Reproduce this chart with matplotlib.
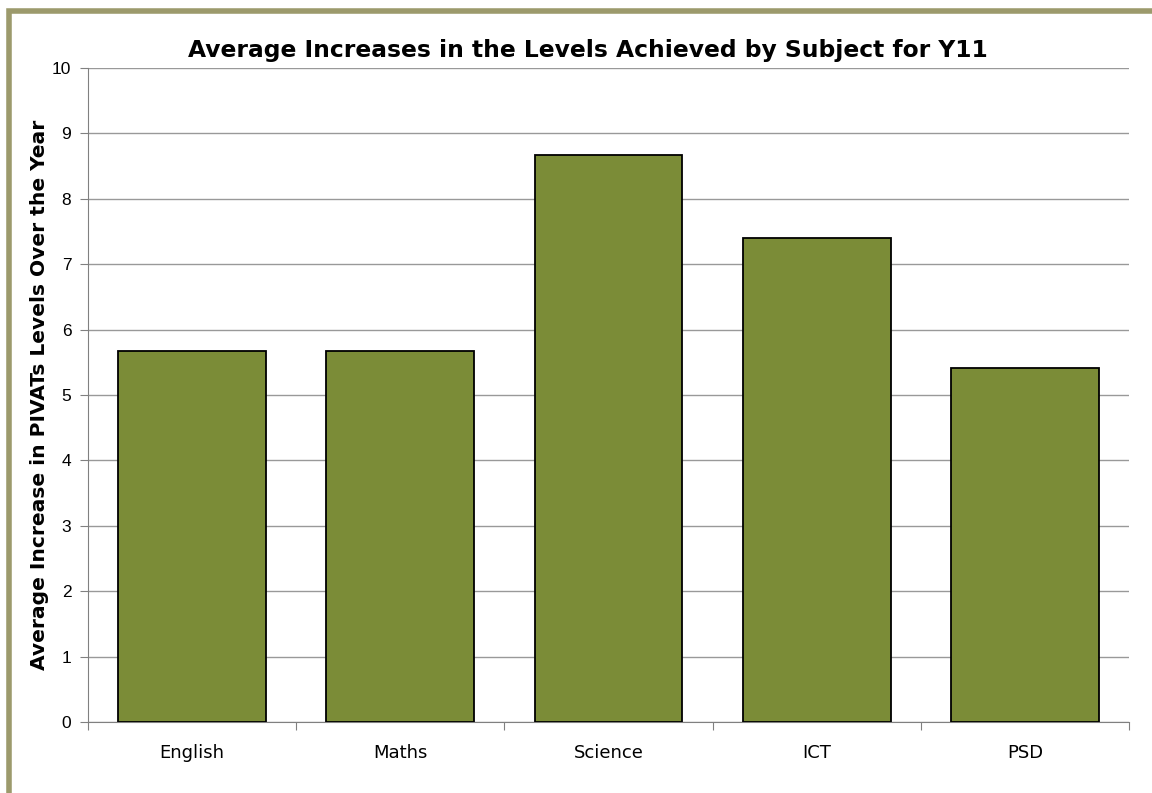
import matplotlib.pyplot as plt
import matplotlib.patches as patches

# Chart data
subjects = ["English", "Maths", "Science", "ICT", "PSD"]
increases = [5.68, 5.68, 8.67, 7.40, 5.42]
yticks = [0, 1, 2, 3, 4, 5, 6, 7, 8, 9, 10]

fig = plt.figure(figsize=(11.52, 7.93), dpi=100)
ax = fig.add_axes([88/1152, 71/793, 1041/1152, 654/793])

# Outer frame of the chart (runs off the right and bottom edges)
frame = patches.Rectangle((9/1152, -0.05), 1.1, (793-11)/793 + 0.05,
                          transform=fig.transFigure, fill=False,
                          edgecolor="#9c9a6c", lw=4, clip_on=False)
fig.patches.append(frame)

x = range(len(subjects))
ax.bar(x, increases, width=0.71, color="#7b8c37", edgecolor="black", lw=1.3, zorder=3)

ax.set_xlim(-0.5, len(subjects) - 0.5)
ax.set_ylim(0, 10)
ax.set_yticks(yticks)
ax.set_yticklabels([str(t) for t in yticks], fontsize=12.5, family="Liberation Sans")
ax.set_xticks([i + 0.5 for i in range(-1, len(subjects))], minor=False)
ax.set_xticklabels([""] * (len(subjects) + 1))
ax.set_xticks(list(x), minor=True)
ax.set_xticklabels(subjects, minor=True, fontsize=13)
ax.tick_params(axis="x", which="minor", length=0, pad=16)
ax.tick_params(axis="x", which="major", length=6, color="#808080", direction="out")
ax.tick_params(axis="y", length=6, color="#808080", direction="out", pad=6)

ax.yaxis.grid(True, color="#999999", lw=1, zorder=0)
for s in ["top", "right"]:
    ax.spines[s].set_visible(False)
for s in ["left", "bottom"]:
    ax.spines[s].set_color("#808080")

ax.set_ylabel("Average Increase in PIVATs Levels Over the Year",
              fontsize=14.6, fontweight="heavy", labelpad=2)
fig.text(588/1152, 1 - 50/793, "Average Increases in the Levels Achieved by Subject for Y11",
         ha="center", va="center", fontsize=16.8, fontweight="heavy")

fig.savefig("out.png", dpi=100)
